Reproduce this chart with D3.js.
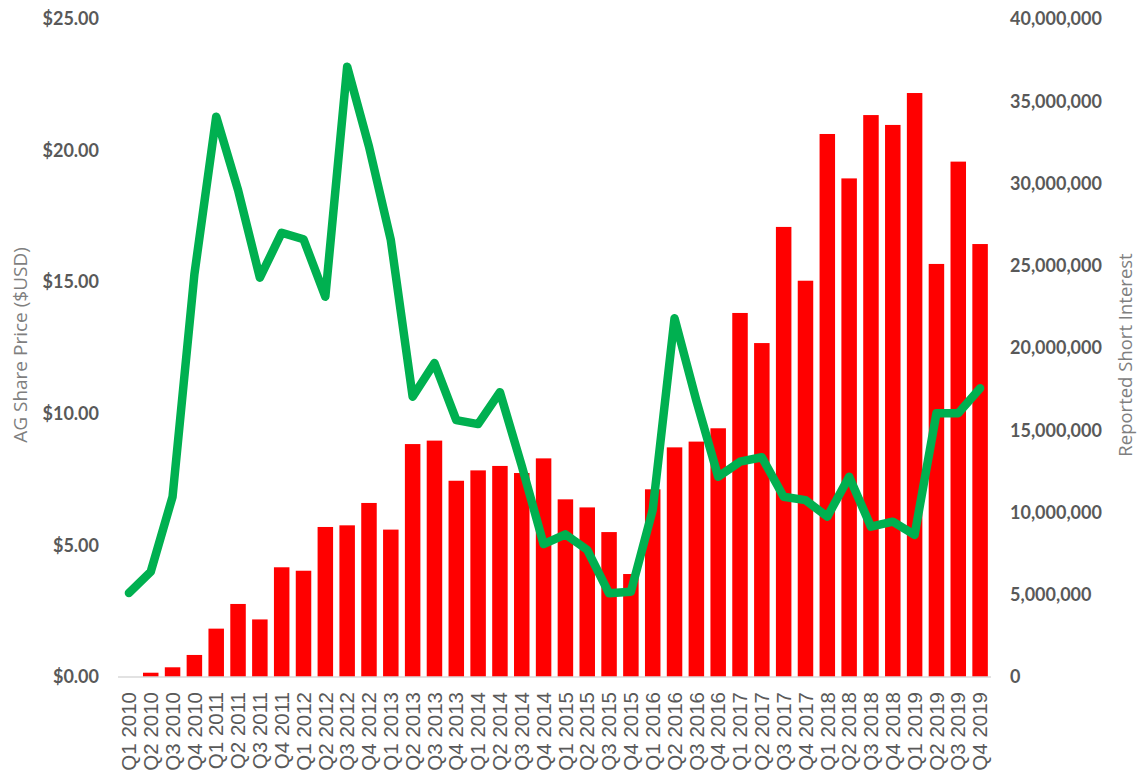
<!DOCTYPE html>
<html>
<head>
<meta charset="utf-8">
<script src="https://cdn.jsdelivr.net/npm/d3@7"></script>
<style>
  html, body { margin: 0; padding: 0; background: #ffffff; }
  svg { display: block; }
</style>
</head>
<body>
<svg id="chart" width="1139" height="776"></svg>
<script>
const categories = [
  "Q1 2010","Q2 2010","Q3 2010","Q4 2010",
  "Q1 2011","Q2 2011","Q3 2011","Q4 2011",
  "Q1 2012","Q2 2012","Q3 2012","Q4 2012",
  "Q1 2013","Q2 2013","Q3 2013","Q4 2013",
  "Q1 2014","Q2 2014","Q3 2014","Q4 2014",
  "Q1 2015","Q2 2015","Q3 2015","Q4 2015",
  "Q1 2016","Q2 2016","Q3 2016","Q4 2016",
  "Q1 2017","Q2 2017","Q3 2017","Q4 2017",
  "Q1 2018","Q2 2018","Q3 2018","Q4 2018",
  "Q1 2019","Q2 2019","Q3 2019","Q4 2019"
];

// Reported short interest (shares) - bars, right axis
const shortInterest = [
  0, 260000, 590000, 1340000,
  2940000, 4440000, 3500000, 6670000,
  6460000, 9120000, 9220000, 10580000,
  8960000, 14160000, 14370000, 11930000,
  12560000, 12830000, 12400000, 13290000,
  10800000, 10310000, 8810000, 6260000,
  11410000, 13960000, 14310000, 15120000,
  22130000, 20300000, 27360000, 24090000,
  33010000, 30310000, 34160000, 33560000,
  35500000, 25110000, 31330000, 26320000
];

// AG share price (USD) - line, left axis
const sharePrice = [
  3.19, 4.00, 6.85, 15.3,
  21.29, 18.5, 15.17, 16.88,
  16.63, 14.45, 23.19, 20.15,
  16.6, 10.65, 11.93, 9.76,
  9.61, 10.82, 8.02, 5.05,
  5.42, 4.83, 3.18, 3.24,
  6.35, 13.63, 10.5, 7.61,
  8.18, 8.35, 6.85, 6.72,
  6.09, 7.61, 5.71, 5.9,
  5.4, 10.02, 10.02, 10.97
];

const leftTicks = [0, 5, 10, 15, 20, 25];
const rightTicks = [0, 5000000, 10000000, 15000000, 20000000, 25000000, 30000000, 35000000, 40000000];
const leftTitle = "AG Share Price ($USD)";
const rightTitle = "Reported Short Interest";

const svg = d3.select("#chart");
const plot = { left: 118, right: 991, top: 19, bottom: 677 };

const x = d3.scaleBand()
  .domain(categories)
  .range([plot.left, plot.right])
  .paddingInner(0.29)
  .paddingOuter(0.145);

const yL = d3.scaleLinear().domain([0, 25]).range([plot.bottom, plot.top]);
const yR = d3.scaleLinear().domain([0, 40000000]).range([plot.bottom, plot.top]);

const tickColor = "#595959";

// Bars
svg.append("g")
  .selectAll("rect")
  .data(categories)
  .join("rect")
  .attr("x", d => x(d))
  .attr("width", x.bandwidth())
  .attr("y", (d, i) => yR(shortInterest[i]))
  .attr("height", (d, i) => yR(0) - yR(shortInterest[i]))
  .attr("fill", "#ff0000");

// Baseline
svg.append("line")
  .attr("x1", plot.left).attr("x2", plot.right)
  .attr("y1", yL(0)).attr("y2", yL(0))
  .attr("stroke", "#d9d9d9").attr("stroke-width", 1.5);

// Line
const line = d3.line()
  .x((d, i) => x(categories[i]) + x.bandwidth() / 2)
  .y(d => yL(d));

svg.append("path")
  .datum(sharePrice)
  .attr("d", line)
  .attr("fill", "none")
  .attr("stroke", "#00b050")
  .attr("stroke-width", 8.5)
  .attr("stroke-linejoin", "round")
  .attr("stroke-linecap", "round");

// Left axis
const leftAxis = d3.axisLeft(yL).tickValues(leftTicks).tickSize(0).tickPadding(0)
  .tickFormat(d => "$" + d3.format(".2f")(d));
const gL = svg.append("g").attr("transform", "translate(99,0)").call(leftAxis);
gL.select(".domain").remove();
gL.selectAll("text")
  .attr("fill", tickColor)
  .style("font-family", "Lato, 'Open Sans', sans-serif")
  .style("font-weight", "bold")
  .style("font-size", "18px");

// Right axis
const rightAxis = d3.axisRight(yR).tickValues(rightTicks).tickSize(0).tickPadding(0)
  .tickFormat(d3.format(","));
const gR = svg.append("g").attr("transform", "translate(1010,0)").call(rightAxis);
gR.select(".domain").remove();
gR.selectAll("text")
  .attr("fill", tickColor)
  .style("font-family", "Lato, 'Open Sans', sans-serif")
  .style("font-weight", "bold")
  .style("font-size", "18px");

// Bottom axis (rotated labels)
const bottomAxis = d3.axisBottom(x).tickSize(0).tickPadding(0);
const gB = svg.append("g").attr("transform", `translate(0,${plot.bottom})`).call(bottomAxis);
gB.select(".domain").remove();
gB.selectAll("text")
  .attr("fill", tickColor)
  .style("font-family", "'Liberation Sans', Arial, sans-serif")
  .style("font-size", "20.5px")
  .attr("text-anchor", "end")
  .attr("transform", "translate(0,15) rotate(-90)")
  .attr("x", 0)
  .attr("y", 0)
  .attr("dy", "0.35em");

// Axis titles
svg.append("text")
  .attr("transform", "translate(20,345) rotate(-90)")
  .attr("text-anchor", "middle")
  .attr("dy", "0.35em")
  .attr("fill", "#7f7f7f")
  .style("font-family", "'Open Sans', Lato, sans-serif")
  .style("font-size", "19px")
  .text(leftTitle);

svg.append("text")
  .attr("transform", "translate(1126,355) rotate(-90)")
  .attr("text-anchor", "middle")
  .attr("dy", "0.35em")
  .attr("fill", "#7f7f7f")
  .style("font-family", "'Open Sans', Lato, sans-serif")
  .style("font-size", "18.5px")
  .text(rightTitle);
</script>
</body>
</html>
